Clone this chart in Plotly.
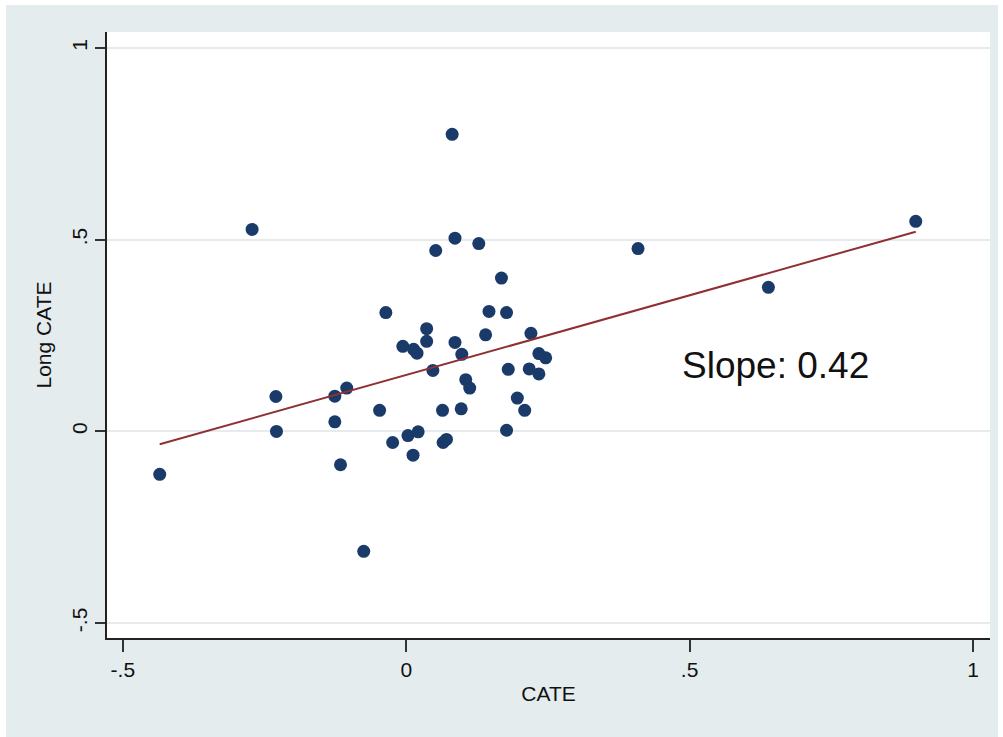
import numpy as np
import plotly.graph_objects as go

# Data
cate = [-0.435, -0.272, -0.230, -0.229, -0.126, -0.105, -0.126, -0.116, -0.075,
        -0.036, -0.047, -0.024, -0.006, 0.013, 0.019, 0.036, 0.036, 0.047,
        0.003, 0.021, 0.012, 0.052, 0.081, 0.086, 0.086, 0.098, 0.064, 0.065,
        0.071, 0.097, 0.105, 0.112, 0.128, 0.146, 0.140, 0.168, 0.177, 0.180,
        0.177, 0.196, 0.209, 0.220, 0.217, 0.234, 0.246, 0.234, 0.409, 0.639, 0.899]
long_cate = [-0.112, 0.527, 0.091, 0.000, 0.092, 0.113, 0.025, -0.087, -0.313,
             0.310, 0.055, -0.029, 0.222, 0.214, 0.204, 0.268, 0.235, 0.159,
             -0.011, -0.001, -0.062, 0.472, 0.775, 0.504, 0.232, 0.201, 0.055, -0.029,
             -0.021, 0.059, 0.135, 0.113, 0.490, 0.313, 0.252, 0.400, 0.310, 0.162,
             0.003, 0.087, 0.055, 0.256, 0.163, 0.203, 0.192, 0.150, 0.477, 0.376, 0.548]

x_ticks = [-0.5, 0, 0.5, 1]
x_tick_labels = ["-.5", "0", ".5", "1"]
y_ticks = [-0.5, 0, 0.5, 1]
y_tick_labels = ["-.5", "0", ".5", "1"]
slope_text = "Slope: 0.42"

# Linear fit across the observed range
xs = np.array(cate)
ys = np.array(long_cate)
b, a = np.polyfit(xs, ys, 1)
fit_x = np.array([xs.min(), xs.max()])
fit_y = a + b * fit_x

GRAY = "#e4ecee"
NAVY = "#1a3b69"
MAROON = "#8f3035"
FONT = "Liberation Sans, Arial, sans-serif"

fig = go.Figure()
fig.add_trace(go.Scatter(
    x=cate, y=long_cate, mode="markers",
    marker=dict(color=NAVY, size=13, line=dict(width=0)),
    showlegend=False, hoverinfo="x+y"))
fig.add_trace(go.Scatter(
    x=fit_x, y=fit_y, mode="lines",
    line=dict(color=MAROON, width=2), showlegend=False))

fig.add_annotation(x=0.651, y=0.172, xref="x", yref="y", text=slope_text,
                   showarrow=False, font=dict(family=FONT, size=37, color="#111111"),
                   xanchor="center", yanchor="middle")

# Outer gray graph region and white plot region (Stata style)
fig.add_shape(type="rect", xref="paper", yref="paper",
              x0=-0.1144, x1=1.009, y0=-0.1634, y1=1.0446,
              fillcolor=GRAY, line=dict(width=0), layer="below")
fig.add_shape(type="rect", xref="paper", yref="paper",
              x0=0, x1=1, y0=0, y1=1,
              fillcolor="white", line=dict(width=0), layer="below")

fig.update_layout(
    width=1003, height=737,
    margin=dict(l=107, r=13, t=32, b=99),
    paper_bgcolor="white", plot_bgcolor="white",
    font=dict(family=FONT, color="#111111"),
    xaxis=dict(
        range=[-0.528, 1.030], tickvals=x_ticks, ticktext=x_tick_labels,
        showgrid=False, zeroline=False,
        showline=True, linecolor="#222222", linewidth=1.5,
        ticks="outside", ticklen=12, tickwidth=1.5, tickcolor="#333333",
        tickfont=dict(size=21, family=FONT, color="#111111"),
        title=dict(text="CATE", font=dict(size=21, family=FONT, color="#111111"), standoff=6),
    ),
    yaxis=dict(
        range=[-0.539, 1.042], tickvals=y_ticks, ticktext=y_tick_labels,
        showgrid=True, gridcolor="#e6ecee", gridwidth=1.5, zeroline=False,
        showline=True, linecolor="#222222", linewidth=1.5,
        ticks="outside", ticklen=10, tickwidth=1.5, tickcolor="#333333",
        tickangle=-90,
        tickfont=dict(size=21, family=FONT, color="#111111"),
        title=dict(text="Long CATE", font=dict(size=21, family=FONT, color="#111111"), standoff=10),
    ),
)

fig.write_html("out.html")
